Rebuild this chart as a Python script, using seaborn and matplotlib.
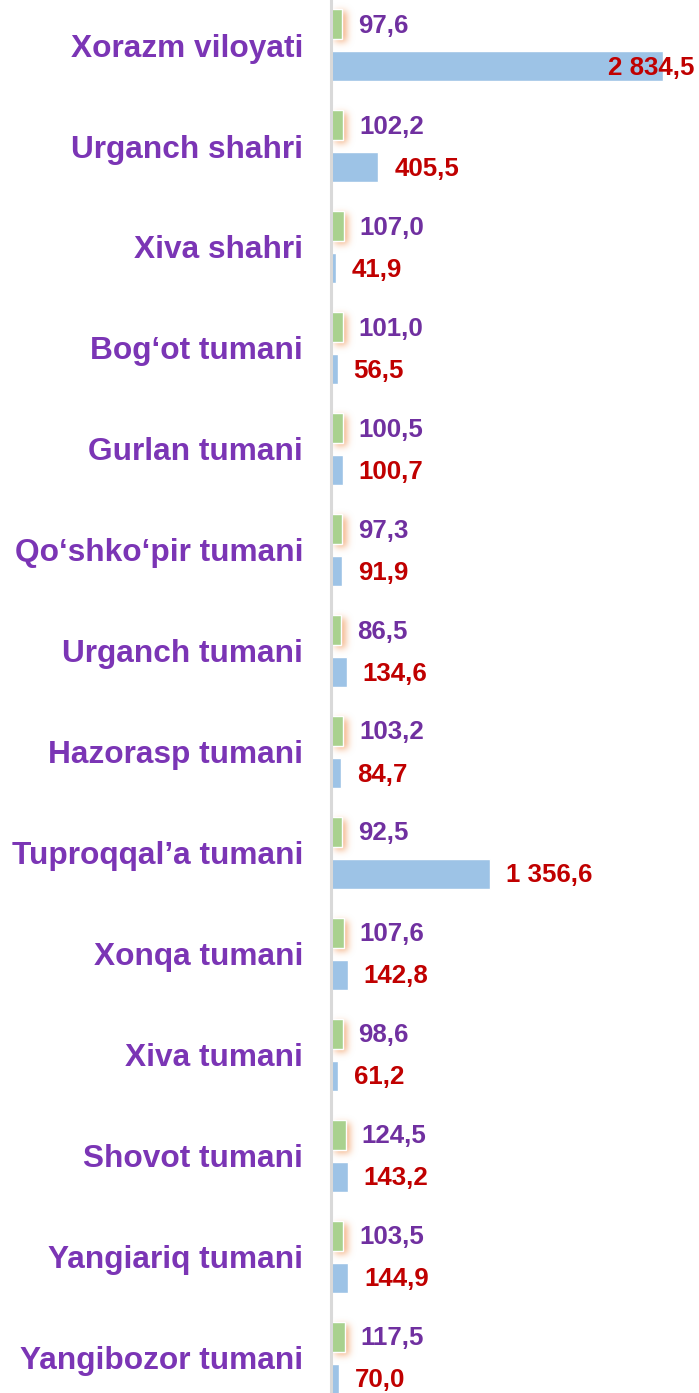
import matplotlib
matplotlib.use("Agg")
import matplotlib.pyplot as plt
import matplotlib.colors as mcolors
import numpy as np
import seaborn as sns
import pandas as pd

regions = [
    "Xorazm viloyati", "Urganch shahri", "Xiva shahri", "Bog\u2018ot tumani",
    "Gurlan tumani", "Qo\u2018shko\u2018pir tumani", "Urganch tumani",
    "Hazorasp tumani", "Tuproqqal\u2019a tumani", "Xonqa tumani",
    "Xiva tumani", "Shovot tumani", "Yangiariq tumani", "Yangibozor tumani",
]
growth_pct = [97.6, 102.2, 107.0, 101.0, 100.5, 97.3, 86.5,
              103.2, 92.5, 107.6, 98.6, 124.5, 103.5, 117.5]
volume = [2834.5, 405.5, 41.9, 56.5, 100.7, 91.9, 134.6,
          84.7, 1356.6, 142.8, 61.2, 143.2, 144.9, 70.0]

series = ["growth", "volume"]
bar_colors = {"growth": "#A9D18E", "volume": "#9DC3E6"}
label_colors = {"growth": "#7030A0", "volume": "#C00000"}
cat_color = "#7B35B5"
glow_color = "#F4B183"

df = pd.DataFrame({
    "region": regions * 2,
    "value": growth_pct + volume,
    "series": ["growth"] * len(regions) + ["volume"] * len(regions),
})

sns.set_theme(style="white")
plt.rcParams["font.family"] = ["Liberation Sans", "DejaVu Sans"]

W, H, DPI = 699, 1393, 100
fig = plt.figure(figsize=(W / DPI, H / DPI), dpi=DPI)
left_px = 331
ax = fig.add_axes([left_px / W, 0, (W - left_px) / W, 1])

sns.barplot(data=df, y="region", x="value", hue="series", hue_order=series,
            order=regions, orient="h", width=0.832, gap=0.286,
            palette=bar_colors, saturation=1, legend=False, ax=ax)

xmax = (W - left_px) / 0.117
px_x = xmax / (W - left_px)   # data units per pixel (x)
px_y = 1 / 101                # data units per pixel (y)


def blur1d(a, sigma, axis):
    r = int(3 * sigma)
    k = np.exp(-0.5 * (np.arange(-r, r + 1) / sigma) ** 2)
    k /= k.sum()
    return np.apply_along_axis(lambda v: np.convolve(v, k, mode="same"), axis, a)


# soft orange glow behind the growth bars
rgb = mcolors.to_rgb(glow_color)
for p in ax.containers[0]:
    x0, y0 = p.get_x(), p.get_y()
    w, h = p.get_width(), p.get_height()
    wpx, hpx = int(round(w / px_x)), int(round(h / px_y))
    pad = 16
    gw, gh = wpx + 2 * pad, hpx + 2 * pad
    mask = np.zeros((gh, gw))
    sx, sy = 4, 3
    mask[pad + sy:pad + sy + hpx, pad + sx:pad + sx + wpx] = 1.0
    mask = blur1d(blur1d(mask, 3.5, 0), 3.5, 1)
    img = np.zeros((gh, gw, 4))
    img[..., :3] = rgb
    img[..., 3] = np.clip(mask * 1.0, 0, 1)
    ax.imshow(img, extent=(x0 - pad * px_x, x0 + w + pad * px_x,
                           y0 + h + pad * px_y, y0 - pad * px_y),
              aspect="auto", interpolation="bilinear", zorder=0.5)

ax.set_xlim(0, xmax)
ax.set_ylim(13.35, -0.446)


def fmt(v):
    s = f"{v:,.1f}"
    return s.replace(",", " ").replace(".", ",")


for cont, name, vals in zip(ax.containers, series, [growth_pct, volume]):
    for p, v in zip(cont, vals):
        yc = p.get_y() + p.get_height() / 2
        end = p.get_width()
        if end > 0.8 * xmax:
            ax.annotate(fmt(v), (end, yc), xytext=(22.5, -1.2),
                        textcoords="offset points", ha="right", va="center",
                        fontsize=18.6, fontweight="bold",
                        color=label_colors[name], annotation_clip=False)
        else:
            ax.annotate(fmt(v), (end, yc), xytext=(11.5, -1.2),
                        textcoords="offset points", ha="left", va="center",
                        fontsize=18.6, fontweight="bold",
                        color=label_colors[name], annotation_clip=False)

ax.set_xlabel("")
ax.set_ylabel("")
ax.set_xticks([])
ax.set_yticks(range(len(regions)), labels=regions, fontsize=22.8,
              fontweight="bold", color=cat_color)
ax.tick_params(axis="y", length=0, pad=20)

for s in ["top", "right", "bottom"]:
    ax.spines[s].set_visible(False)
ax.spines["left"].set_color("#D9D9D9")
ax.spines["left"].set_linewidth(2.2)
ax.spines["left"].set_zorder(5)

fig.savefig("out.png", dpi=DPI)
